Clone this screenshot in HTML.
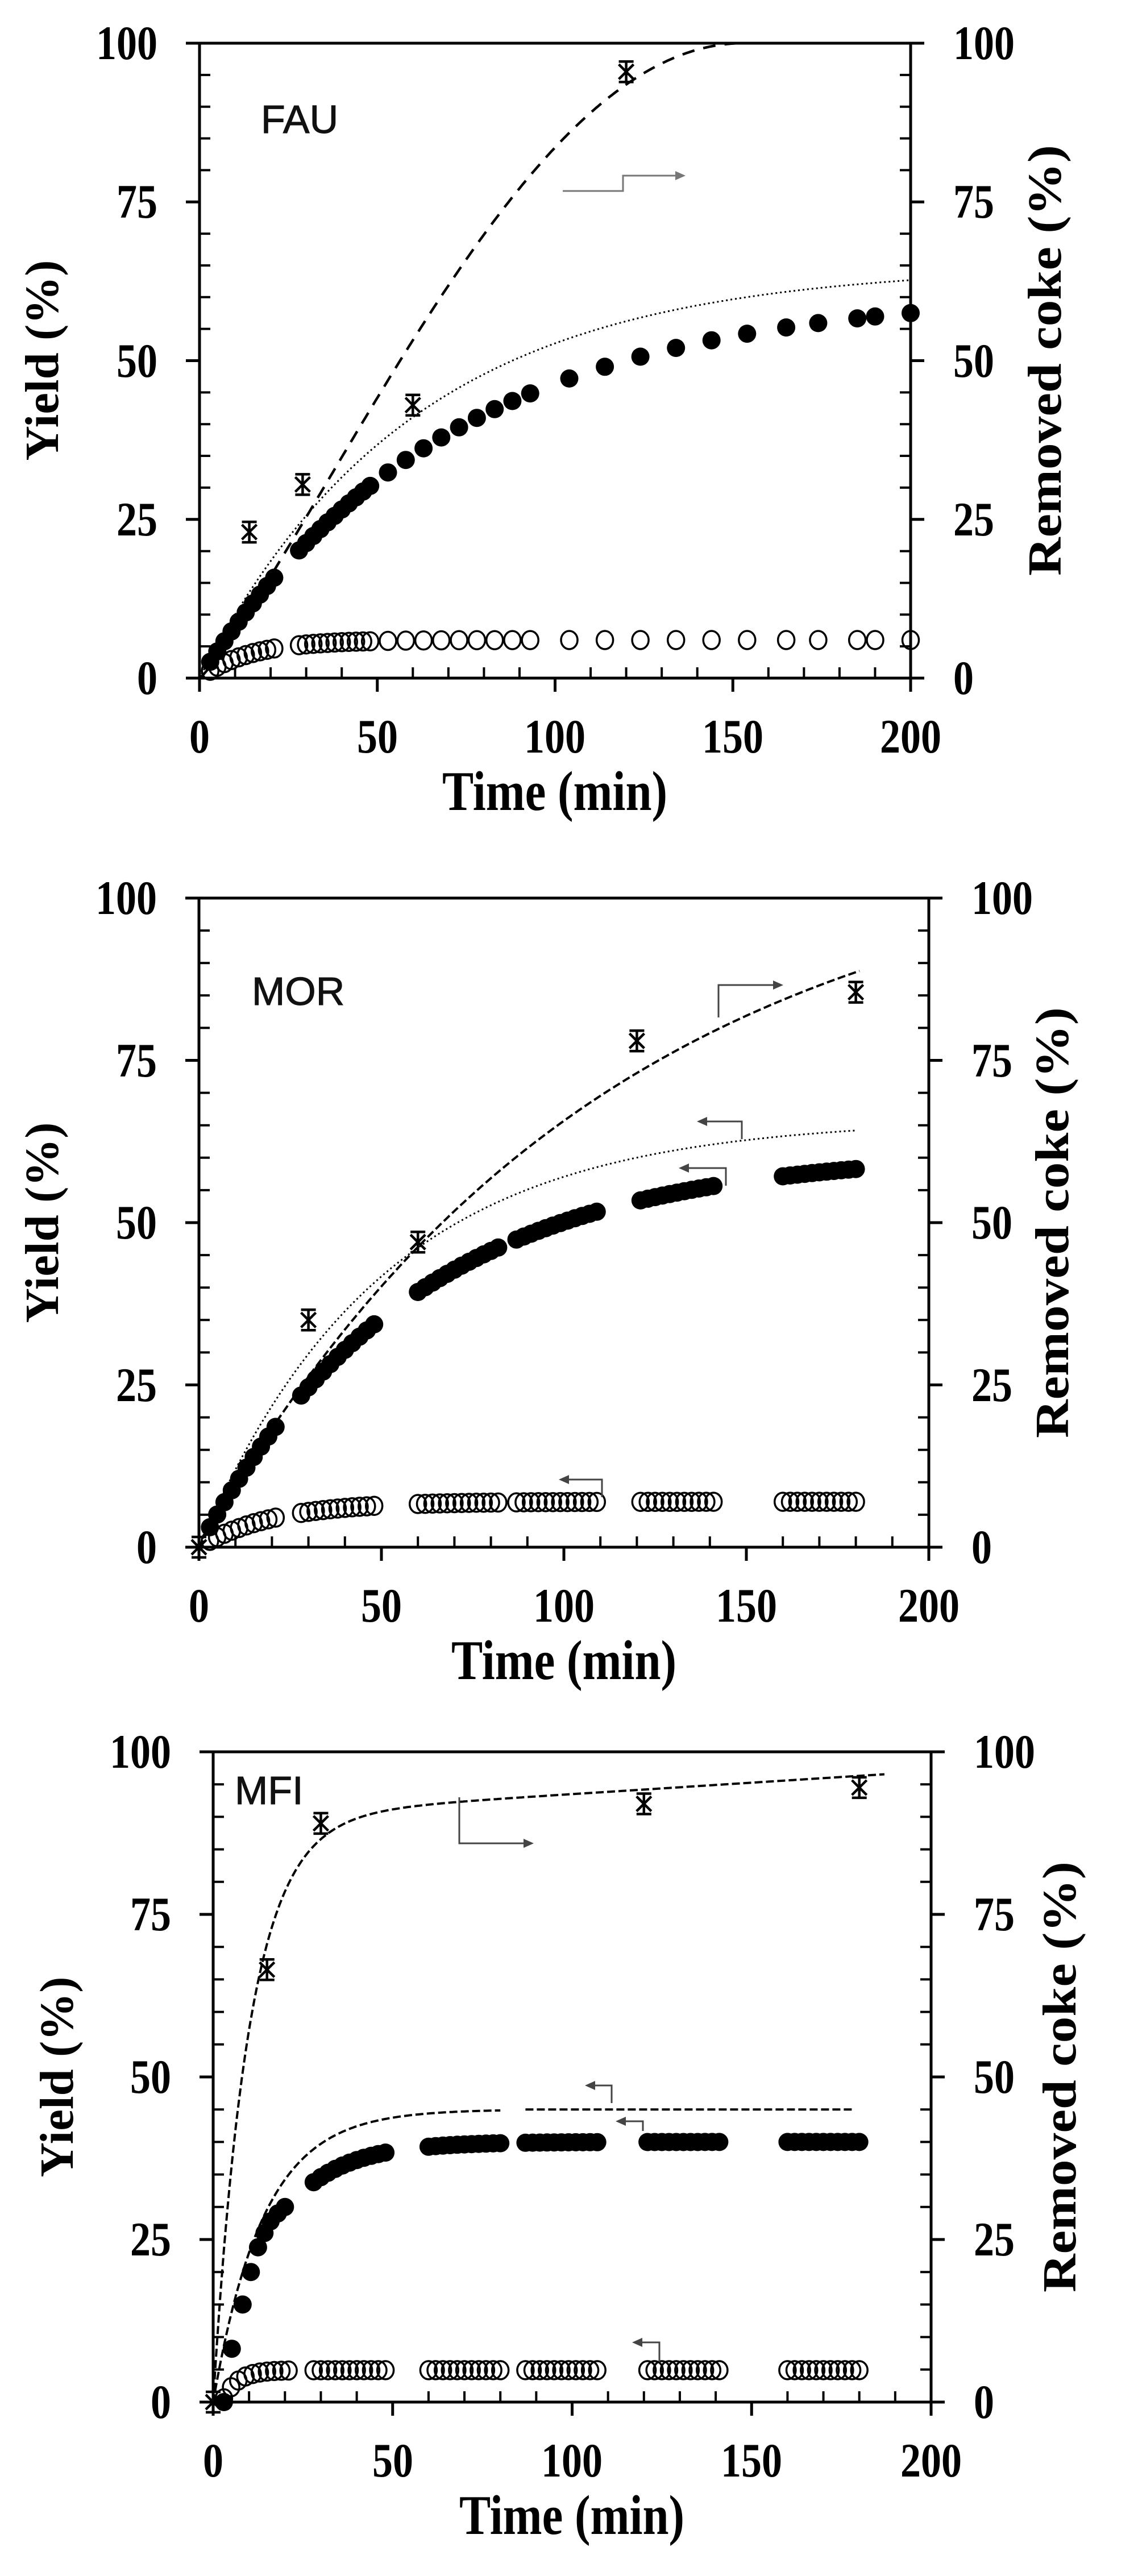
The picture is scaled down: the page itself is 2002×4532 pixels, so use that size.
<!DOCTYPE html>
<html><head><meta charset="utf-8"><style>
html,body{margin:0;padding:0;background:#fff;}
svg{display:block;}
.t{font-family:"Liberation Serif",serif;font-weight:bold;fill:#000;}
.s{font-family:"Liberation Sans",sans-serif;fill:#111;}
</style></head><body>
<svg id="c" width="2002" height="4532" viewBox="0 0 2002 4532" xmlns="http://www.w3.org/2000/svg">
<rect width="2002" height="4532" fill="#fff"/>
<g id="g"></g>
<!-- Panel 1 text -->
<text class="s" x="459" y="234" font-size="70" stroke="#111" stroke-width="1">FAU</text>
<text class="t" font-size="84" text-anchor="middle" transform="translate(102,634) rotate(-90)" textLength="353" lengthAdjust="spacingAndGlyphs">Yield (%)</text>
<text class="t" font-size="84" text-anchor="middle" transform="translate(1866,634) rotate(-90)" textLength="758" lengthAdjust="spacingAndGlyphs">Removed coke  (%)</text>
<text class="t" font-size="84" text-anchor="middle" transform="translate(976,1425) scale(1,1.17)" textLength="396" lengthAdjust="spacingAndGlyphs">Time (min)</text>
<!-- Panel 2 text -->
<text class="s" x="443" y="1768" font-size="70" stroke="#111" stroke-width="1">MOR</text>
<text class="t" font-size="84" text-anchor="middle" transform="translate(102,2151) rotate(-90)" textLength="353" lengthAdjust="spacingAndGlyphs">Yield (%)</text>
<text class="t" font-size="84" text-anchor="middle" transform="translate(1879,2151) rotate(-90)" textLength="758" lengthAdjust="spacingAndGlyphs">Removed coke  (%)</text>
<text class="t" font-size="84" text-anchor="middle" transform="translate(992,2954) scale(1,1.17)" textLength="396" lengthAdjust="spacingAndGlyphs">Time (min)</text>
<!-- Panel 3 text -->
<text class="s" x="413" y="3174" font-size="70" stroke="#111" stroke-width="1">MFI</text>
<text class="t" font-size="84" text-anchor="middle" transform="translate(128,3654) rotate(-90)" textLength="353" lengthAdjust="spacingAndGlyphs">Yield (%)</text>
<text class="t" font-size="84" text-anchor="middle" transform="translate(1892,3654) rotate(-90)" textLength="758" lengthAdjust="spacingAndGlyphs">Removed coke  (%)</text>
<text class="t" font-size="84" text-anchor="middle" transform="translate(1006,4458) scale(1,1.17)" textLength="396" lengthAdjust="spacingAndGlyphs">Time (min)</text>
<g id="labels">
<g class="t" font-size="72">
<!-- P1 -->
<text text-anchor="end" transform="translate(277,104) scale(1,1.17)">100</text>
<text text-anchor="end" transform="translate(277,383) scale(1,1.17)">75</text>
<text text-anchor="end" transform="translate(277,663) scale(1,1.17)">50</text>
<text text-anchor="end" transform="translate(277,942) scale(1,1.17)">25</text>
<text text-anchor="end" transform="translate(277,1221) scale(1,1.17)">0</text>
<text transform="translate(1677,104) scale(1,1.17)">100</text>
<text transform="translate(1677,383) scale(1,1.17)">75</text>
<text transform="translate(1677,663) scale(1,1.17)">50</text>
<text transform="translate(1677,942) scale(1,1.17)">25</text>
<text transform="translate(1677,1221) scale(1,1.17)">0</text>
<text text-anchor="middle" transform="translate(351,1324) scale(1,1.17)">0</text>
<text text-anchor="middle" transform="translate(664,1324) scale(1,1.17)">50</text>
<text text-anchor="middle" transform="translate(976,1324) scale(1,1.17)">100</text>
<text text-anchor="middle" transform="translate(1289,1324) scale(1,1.17)">150</text>
<text text-anchor="middle" transform="translate(1602,1324) scale(1,1.17)">200</text>
<!-- P2 -->
<text text-anchor="end" transform="translate(276,1608) scale(1,1.17)">100</text>
<text text-anchor="end" transform="translate(276,1894) scale(1,1.17)">75</text>
<text text-anchor="end" transform="translate(276,2179) scale(1,1.17)">50</text>
<text text-anchor="end" transform="translate(276,2465) scale(1,1.17)">25</text>
<text text-anchor="end" transform="translate(276,2750) scale(1,1.17)">0</text>
<text transform="translate(1709,1608) scale(1,1.17)">100</text>
<text transform="translate(1709,1894) scale(1,1.17)">75</text>
<text transform="translate(1709,2179) scale(1,1.17)">50</text>
<text transform="translate(1709,2465) scale(1,1.17)">25</text>
<text transform="translate(1709,2750) scale(1,1.17)">0</text>
<text text-anchor="middle" transform="translate(350,2853) scale(1,1.17)">0</text>
<text text-anchor="middle" transform="translate(671,2853) scale(1,1.17)">50</text>
<text text-anchor="middle" transform="translate(992,2853) scale(1,1.17)">100</text>
<text text-anchor="middle" transform="translate(1313,2853) scale(1,1.17)">150</text>
<text text-anchor="middle" transform="translate(1634,2853) scale(1,1.17)">200</text>
<!-- P3 -->
<text text-anchor="end" transform="translate(301,3110) scale(1,1.17)">100</text>
<text text-anchor="end" transform="translate(301,3396) scale(1,1.17)">75</text>
<text text-anchor="end" transform="translate(301,3682) scale(1,1.17)">50</text>
<text text-anchor="end" transform="translate(301,3968) scale(1,1.17)">25</text>
<text text-anchor="end" transform="translate(301,4254) scale(1,1.17)">0</text>
<text transform="translate(1713,3110) scale(1,1.17)">100</text>
<text transform="translate(1713,3396) scale(1,1.17)">75</text>
<text transform="translate(1713,3682) scale(1,1.17)">50</text>
<text transform="translate(1713,3968) scale(1,1.17)">25</text>
<text transform="translate(1713,4254) scale(1,1.17)">0</text>
<text text-anchor="middle" transform="translate(375,4357) scale(1,1.17)">0</text>
<text text-anchor="middle" transform="translate(691,4357) scale(1,1.17)">50</text>
<text text-anchor="middle" transform="translate(1006,4357) scale(1,1.17)">100</text>
<text text-anchor="middle" transform="translate(1322,4357) scale(1,1.17)">150</text>
<text text-anchor="middle" transform="translate(1638,4357) scale(1,1.17)">200</text>
</g>
</g>
</svg>
<script>
(function(){
var G=document.getElementById('g'),out=[];
function P(L,R,T,B){return {L:L,R:R,T:T,B:B,sx:function(t){return L+(R-L)*t/200;},sy:function(v){return B-(B-T)*v/100;}};}
function axes(p){
 var s='<rect x="'+p.L+'" y="'+p.T+'" width="'+(p.R-p.L)+'" height="'+(p.B-p.T)+'" fill="none" stroke="#000" stroke-width="5"/>';
 for(var v=0;v<=100;v+=5){var y=p.sy(v);
  if(v%25==0){s+='<line x1="'+(p.L-24)+'" y1="'+y+'" x2="'+p.L+'" y2="'+y+'" stroke="#000" stroke-width="5"/>';
   s+='<line x1="'+p.R+'" y1="'+y+'" x2="'+(p.R+24)+'" y2="'+y+'" stroke="#000" stroke-width="5"/>';}
  else{s+='<line x1="'+p.L+'" y1="'+y+'" x2="'+(p.L+19)+'" y2="'+y+'" stroke="#000" stroke-width="4"/>';
   s+='<line x1="'+(p.R-19)+'" y1="'+y+'" x2="'+p.R+'" y2="'+y+'" stroke="#000" stroke-width="4"/>';}}
 for(var t=0;t<=200;t+=10){var x=p.sx(t);
  if(t%50==0)s+='<line x1="'+x+'" y1="'+p.B+'" x2="'+x+'" y2="'+(p.B+24)+'" stroke="#000" stroke-width="5"/>';
  else s+='<line x1="'+x+'" y1="'+(p.B-19)+'" x2="'+x+'" y2="'+p.B+'" stroke="#000" stroke-width="4"/>';}
 out.push(s);}
function curve(p,f,t0,t1,dash,w){var d='';for(var t=t0;t<=t1+1e-9;t+=0.5){d+=(d?'L':'M')+p.sx(t).toFixed(1)+','+p.sy(f(t)).toFixed(1);}
 out.push('<path d="'+d+'" fill="none" stroke="#000" stroke-width="'+w+'" stroke-dasharray="'+dash+'"/>');}
function filled(p,pts){var s='';pts.forEach(function(q){s+='<circle cx="'+p.sx(q[0]).toFixed(1)+'" cy="'+p.sy(q[1]).toFixed(1)+'" r="16" fill="#000"/>';});out.push(s);}
function open(p,pts){var s='';pts.forEach(function(q){s+='<ellipse cx="'+p.sx(q[0]).toFixed(1)+'" cy="'+p.sy(q[1]).toFixed(1)+'" rx="14.5" ry="16" fill="none" stroke="#000" stroke-width="3.5"/>';});out.push(s);}
function stars(p,pts){var s='';pts.forEach(function(q){var x=p.sx(q[0]),y=p.sy(q[1]),a=13,b=18;
 s+='<path d="M'+(x-a)+','+(y-a)+'L'+(x+a)+','+(y+a)+'M'+(x+a)+','+(y-a)+'L'+(x-a)+','+(y+a)+'M'+x+','+(y-b)+'L'+x+','+(y+b)+'M'+(x-a)+','+(y-b)+'L'+(x+a)+','+(y-b)+'M'+(x-a)+','+(y+b)+'L'+(x+a)+','+(y+b)+'" stroke="#000" stroke-width="4.5" fill="none"/>';});out.push(s);}
function arrow(pts,dir,col){var d='';pts.forEach(function(q,i){d+=(i?'L':'M')+q[0]+','+q[1];});
 var e=pts[pts.length-1],h=dir>0?'M'+(e[0]+6)+','+e[1]+'L'+(e[0]-12)+','+(e[1]-8)+'L'+(e[0]-12)+','+(e[1]+8)+'Z':'M'+(e[0]-6)+','+e[1]+'L'+(e[0]+12)+','+(e[1]-8)+'L'+(e[0]+12)+','+(e[1]+8)+'Z';
 out.push('<path d="'+d+'" fill="none" stroke="'+col+'" stroke-width="3"/><path d="'+h+'" fill="'+col+'"/>');}
function range(a,b,s){var r=[];for(var t=a;t<=b+1e-9;t+=s)r.push(t);return r;}

// Panel 1 FAU
var p1=P(351,1602,76,1193);axes(p1);
var T1=[3,5,7,9,11,13,15,17,19,21].concat(range(28,48,2),range(53,93,5),[104,114,124,134,144,154,165,174,185,190,200]);
curve(p1,function(t){return 100*Math.pow(Math.sin(Math.PI/2*Math.min(t,153)/153),1.15);},0,153,'22 16',4.5);
curve(p1,function(t){return 65*(1-Math.exp(-t/60));},0,200,'3 5',3);
filled(p1,T1.map(function(t){return [t,61*(1-Math.exp(-t/70))];}));
open(p1,T1.map(function(t){return [t,6*(1-Math.exp(-t/14))];}));
stars(p1,[[14,23],[29,30.5],[60,43],[120,95.5]]);
arrow([[990,336],[1096,336],[1096,309],[1200,309]],1,'#777');

// Panel 2 MOR
var p2=P(350,1634,1580,2722);axes(p2);
var T2=[3,5,7,9,11,13,15,17,19,21].concat(range(28,48,2),range(60,82,2),range(87,109,2),range(121,141,2),range(160,180,2));
curve(p2,function(t){return 110*(1-Math.exp(-t/110));},0,181,'14 6',4);
curve(p2,function(t){return 66*(1-Math.exp(-t/50));},0,180,'3 5',3);
filled(p2,T2.map(function(t){return [t,61*(1-Math.exp(-t/58))];}));
open(p2,T2.map(function(t){return [t,7*(1-Math.exp(-t/20))];}));
stars(p2,[[0,0],[30,35],[60,47],[120,78],[180,85.5]]);
arrow([[1264,1790],[1264,1733],[1372,1733]],1,'#444');
arrow([[1305,2004],[1305,1973],[1232,1973]],-1,'#444');
arrow([[1277,2086],[1277,2055],[1200,2055]],-1,'#444');
arrow([[1059,2634],[1059,2603],[989,2603]],-1,'#444');

// Panel 3 MFI
var p3=P(375,1638,3082,4226);axes(p3);
curve(p3,function(t){return 90*(1-Math.exp(-t/10))+0.035*t;},0,187,'14 6',4);
curve(p3,function(t){return 45*(1-Math.exp(-t/14));},0,80,'14 6',4);
curve(p3,function(t){return 45;},87,178,'14 6',4);
var F3=[[3,0],[5.2,8.2],[8.2,15],[10.5,20],[12.5,23.8],[14.3,26],[16,27.8],[18,29],[20,30]];
range(28,48,2).forEach(function(t){F3.push([t,40*(1-Math.exp(-t/15))]);});
range(60,80,2).concat(range(87,108,2),range(121,142,2),range(160,181,2)).forEach(function(t){F3.push([t,40*(1-Math.exp(-t/15))]);});
filled(p3,F3);
var O3=[3,5,7,9,11,13,15,17,19,21].concat(range(28,48,2),range(60,80,2),range(87,108,2),range(121,142,2),range(160,181,2));
open(p3,O3.map(function(t){return [t,4.9*(1-Math.exp(-(t-2.5)/4))];}));
stars(p3,[[0,0],[15,66.5],[30,89],[120,92],[180,94.5]]);
arrow([[808,3162],[808,3243],[933,3243]],1,'#444');
arrow([[1076,3700],[1076,3669],[1035,3669]],-1,'#444');
arrow([[1131,3749],[1131,3732],[1089,3732]],-1,'#444');
arrow([[1160,4155],[1160,4121],[1118,4121]],-1,'#444');

G.innerHTML=out.join('');
})();
</script>
</body></html>
